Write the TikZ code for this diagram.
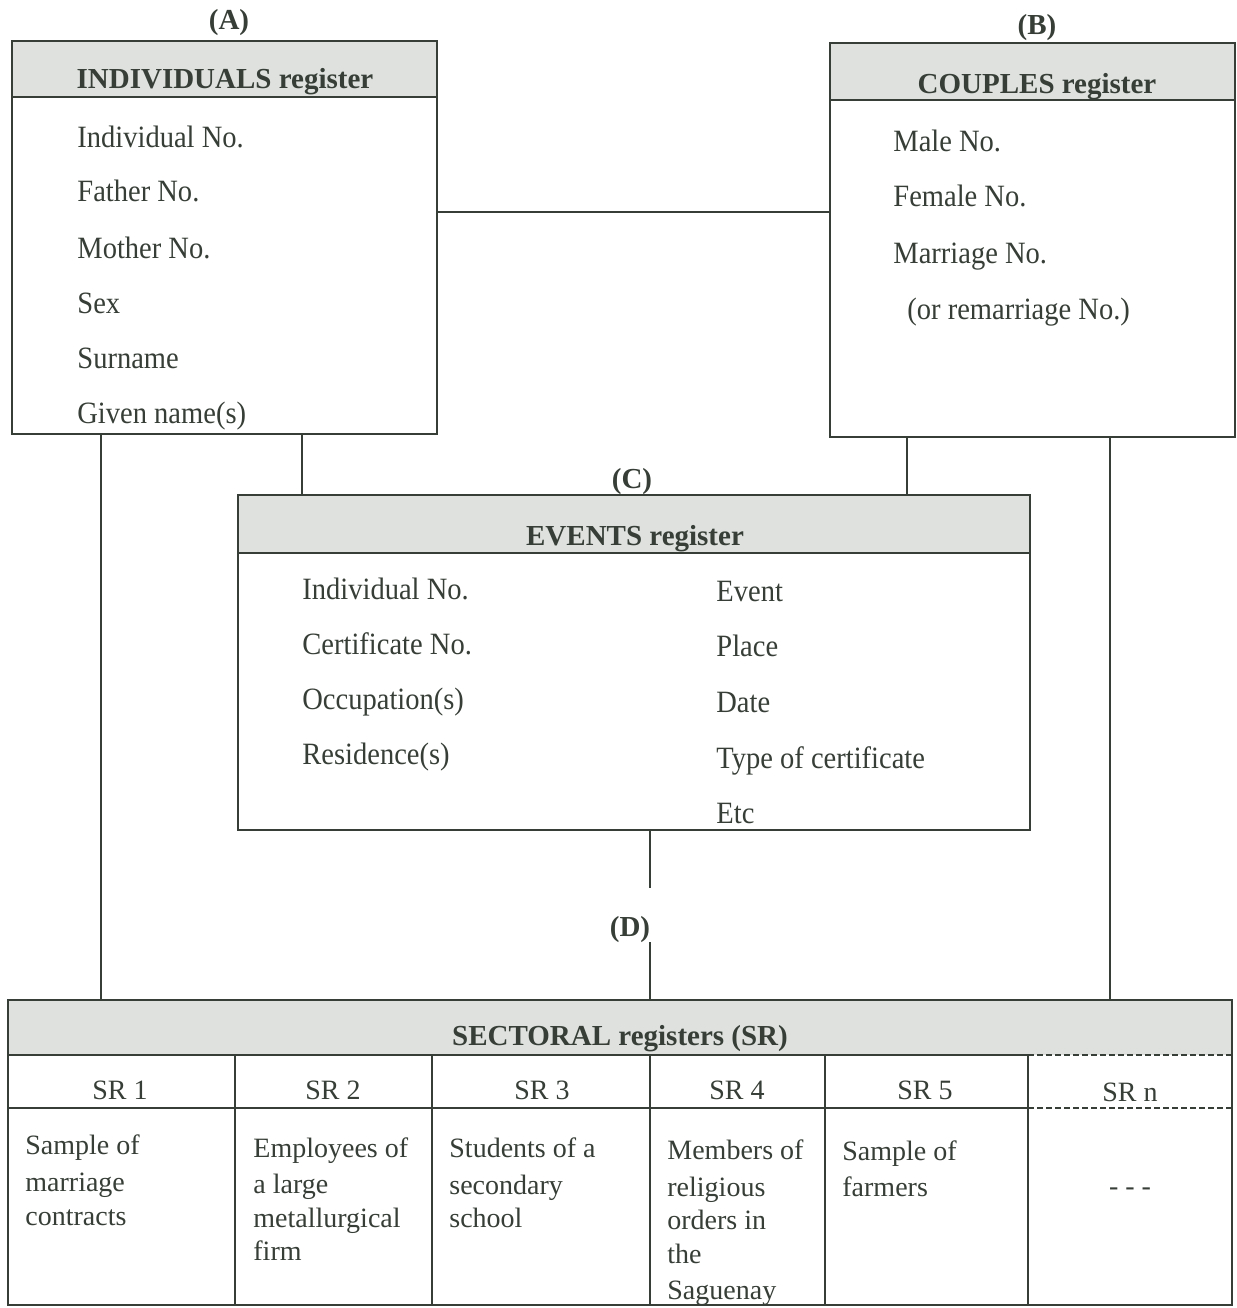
\documentclass[tikz,border=0pt]{standalone}
\usepackage{fontspec}
\setmainfont{Liberation Serif}
\newfontfamily\narrowserif[FakeStretch=0.92]{Liberation Serif}
\usetikzlibrary{calc}
\definecolor{ink}{RGB}{55,62,55}
\definecolor{hdrfill}{RGB}{222,225,222}
\begin{document}
\begin{tikzpicture}[x=0.5pt,y=-0.5pt,
  box/.style={draw=ink, line width=1.2pt, fill=white, inner sep=0pt, outer sep=0pt, anchor=north west},
  hdr/.style={draw=ink, line width=1.2pt, fill=hdrfill, inner sep=0pt, outer sep=0pt, anchor=north west},
  title/.style={font=\fontsize{14.5}{17}\selectfont\bfseries, text=ink, anchor=base, inner sep=0pt},
  item/.style={font=\narrowserif\fontsize{15.5}{18}\selectfont, text=ink, anchor=base west, inner sep=0pt},
  sritem/.style={font=\fontsize{14}{17}\selectfont, text=ink, anchor=base west, inner sep=0pt},
  srhead/.style={font=\fontsize{14}{17}\selectfont, text=ink, anchor=base, inner sep=0pt},
  link/.style={draw=ink, line width=0.9pt},
  tabline/.style={draw=ink, line width=1pt},
  tabdash/.style={draw=ink, line width=1pt, dash pattern=on 3pt off 1.5pt},
]
\useasboundingbox (0,0) rectangle (1237,1308);

% ---------- boxes (geometry) ----------
\node[box, minimum width=212.5pt, minimum height=196.5pt] (A) at (12,41) {};
\node[box, minimum width=202.5pt, minimum height=197pt] (B) at (830,43) {};
\node[box, minimum width=396pt, minimum height=167.5pt] (C) at (238,495) {};
\node[box, minimum width=612pt, minimum height=152.5pt] (S) at (8,1000) {};

% ---------- connectors ----------
\coordinate (yab) at (0,212);
\coordinate (x1) at (302,0);
\coordinate (x2) at (907,0);
\coordinate (x3) at (101,0);
\coordinate (x4) at (1110,0);
\coordinate (d1) at (650,888);
\coordinate (d2) at (650,942);
\draw[link] (A.east |- yab) -- (B.west |- yab);
\draw[link] (A.south -| x1) -- (C.north -| x1);
\draw[link] (B.south -| x2) -- (C.north -| x2);
\draw[link] (A.south -| x3) -- (S.north -| x3);
\draw[link] (B.south -| x4) -- (S.north -| x4);
\draw[link] (C.south -| d1) -- (d1);
\draw[link] (d2) -- (S.north -| d2);

% ---------- headers ----------
\node[hdr, minimum width=212.5pt, minimum height=28pt] (Ah) at (12,41) {};
\node[hdr, minimum width=202.5pt, minimum height=28.5pt] (Bh) at (830,43) {};
\node[hdr, minimum width=396pt, minimum height=29pt] (Ch) at (238,495) {};
\fill[hdrfill] (S.north west) rectangle ($(S.north east)+(0,55)$);
\draw[ink, line width=1.2pt] (S.north west) rectangle (S.south east);

\node[title] (At) at (225,88) {INDIVIDUALS register};
\node[title] (Bt) at (1037,93) {COUPLES register};
\node[title] (Ct) at (635,545) {EVENTS register};
\node[title] (St) at (620,1045) {SECTORAL registers (SR)};

% ---------- letter labels ----------
\node[title] (La) at (229,29) {(A)};
\node[title] (Lb) at (1037,34) {(B)};
\node[title] (Lc) at (632,488) {(C)};
\node[title] (Ld) at (630,936) {(D)};

% ---------- box A items ----------
\foreach \t/\y [count=\i] in {Individual No./147, Father No./201, Mother No./258, Sex/313, Surname/368, Given name(s)/423}
  \node[item] (a\i) at (77,\y) {\t};

% ---------- box B items ----------
\foreach \t/\y [count=\i] in {Male No./151, Female No./206, Marriage No./263}
  \node[item] (b\i) at (893,\y) {\t};
\node[item] (b4) at (907,319) {(or remarriage No.)};

% ---------- box C items ----------
\foreach \t/\y [count=\i] in {Individual No./599, Certificate No./654, Occupation(s)/709, Residence(s)/764}
  \node[item] (cl\i) at (302,\y) {\t};
\foreach \t/\y [count=\i] in {Event/601, Place/656, Date/712, Type of certificate/768, Etc/823}
  \node[item] (cr\i) at (716,\y) {\t};

% ---------- sectoral table ----------
\foreach \x in {235,432,650,825,1028}
  \draw[tabline] (\x,1055) -- (\x,1305);
\draw[tabline] (8,1055) -- (1028,1055);
\draw[tabdash] (1028,1055) -- (1232,1055);
\draw[tabline] (8,1108) -- (1028,1108);
\draw[tabdash] (1028,1108) -- (1232,1108);

\foreach \t/\x [count=\i] in {SR 1/120, SR 2/333, SR 3/542, SR 4/737, SR 5/925}
  \node[srhead] (h\i) at (\x,1099) {\t};
\node[srhead] (hn) at (1130,1101) {SR n};

\node[sritem] (s11) at (25,1154) {Sample of};
\node[sritem] (s12) at (25,1191) {marriage};
\node[sritem] (s13) at (25,1225) {contracts};

\node[sritem] (s21) at (253,1157) {Employees of};
\node[sritem] (s22) at (253,1193) {a large};
\node[sritem] (s23) at (253,1227) {metallurgical};
\node[sritem] (s24) at (253,1260) {firm};

\node[sritem] (s31) at (449,1157) {Students of a};
\node[sritem] (s32) at (449,1194) {secondary};
\node[sritem] (s33) at (449,1227) {school};

\node[sritem] (s41) at (667,1159) {Members of};
\node[sritem] (s42) at (667,1196) {religious};
\node[sritem] (s43) at (667,1229) {orders in};
\node[sritem] (s44) at (667,1263) {the};
\node[sritem] (s45) at (667,1299) {Saguenay};

\node[sritem] (s51) at (842,1160) {Sample of};
\node[sritem] (s52) at (842,1196) {farmers};

\node[srhead] (sn) at (1130,1195) {- - -};
\end{tikzpicture}
\end{document}
